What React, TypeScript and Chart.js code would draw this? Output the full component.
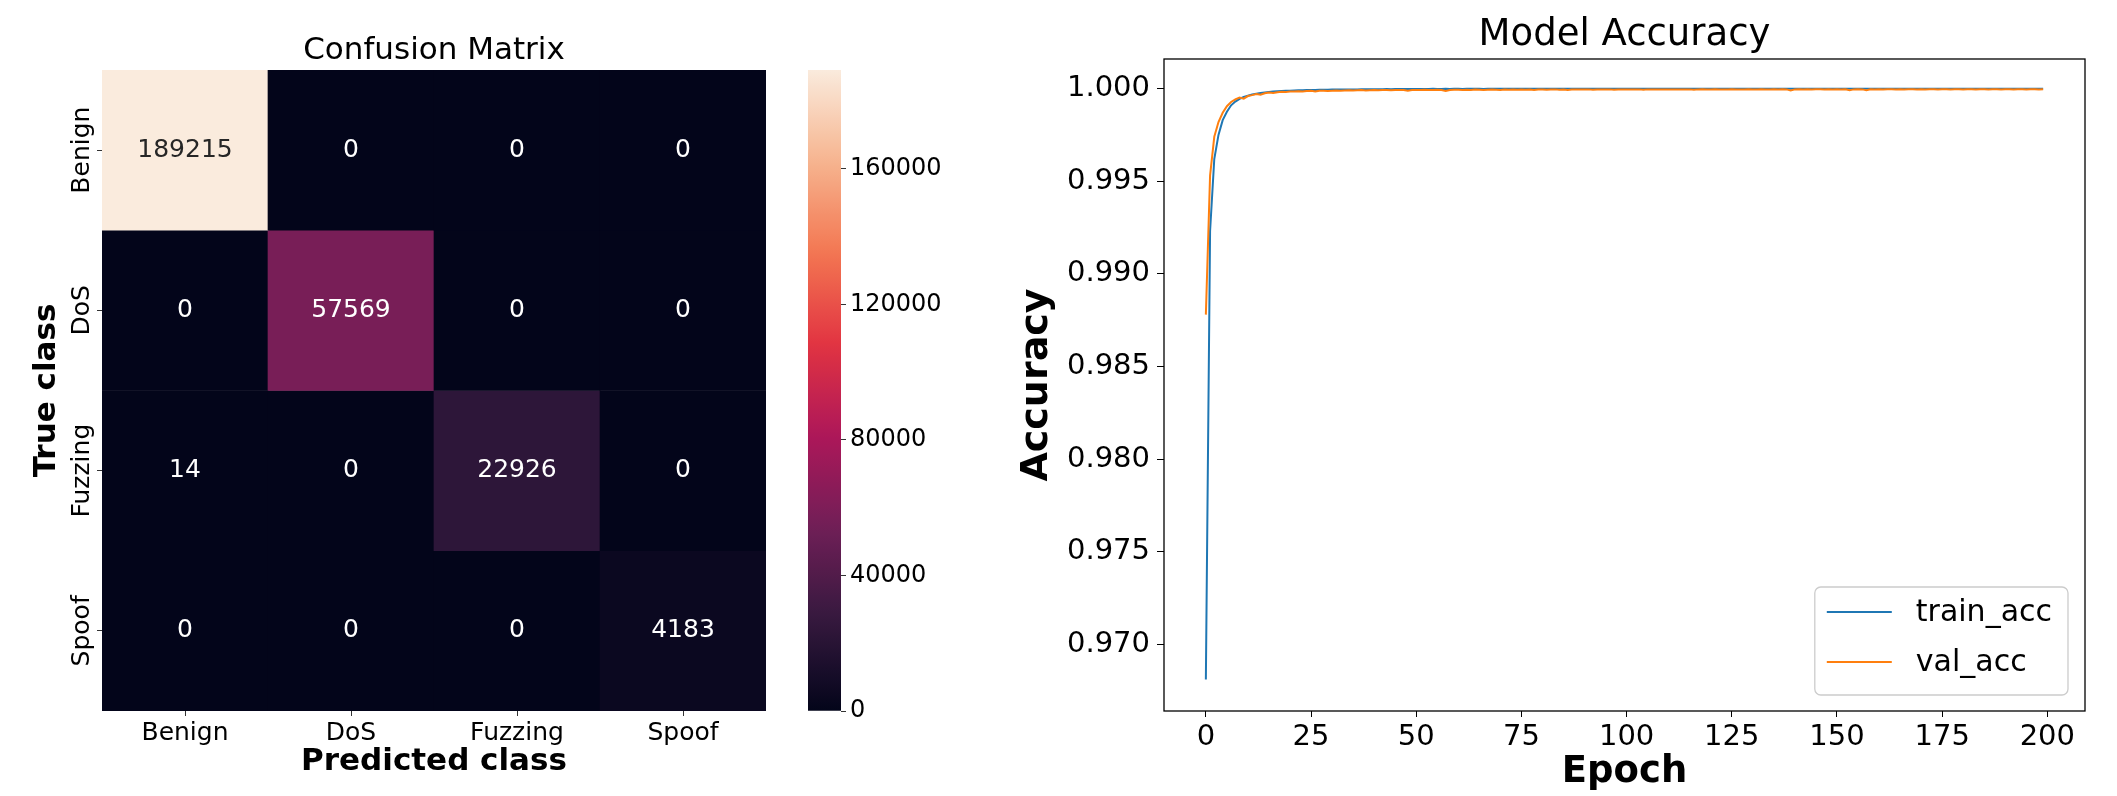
import React, { useEffect, useRef } from "react";
import { Chart, registerables } from "chart.js";
Chart.register(...registerables);

const FONT = "'DejaVu Sans', 'Noto Sans', sans-serif";

// ---------- Confusion matrix data ----------
const classes = ["Benign", "DoS", "Fuzzing", "Spoof"];
const rowBenign = [189215, 0, 0, 0];
const rowDoS = [0, 57569, 0, 0];
const rowFuzzing = [14, 0, 22926, 0];
const rowSpoof = [0, 0, 0, 4183];
const confusionRows = [rowBenign, rowDoS, rowFuzzing, rowSpoof];
const colorbarTicks = [0, 40000, 80000, 120000, 160000];
const colorbarMax = 189215;

// ---------- Accuracy data ----------
const epochTicks = [0, 25, 50, 75, 100, 125, 150, 175, 200];
const accTicks = [0.97, 0.975, 0.98, 0.985, 0.99, 0.995, 1.0];
const trainAcc = [
  0.96810, 0.99230, 0.99620, 0.99750, 0.99830, 0.99875, 0.99910, 0.99930, 0.99945, 0.99955,
  0.99962, 0.99968, 0.99972, 0.99976, 0.99979, 0.99982, 0.99984, 0.99986, 0.99987, 0.99988,
  0.99989, 0.99990, 0.99991, 0.99991, 0.99992, 0.99993, 0.99993, 0.99994, 0.99994, 0.99994,
  0.99995, 0.99995, 0.99995, 0.99996, 0.99996, 0.99996, 0.99996, 0.99997, 0.99997, 0.99997,
  0.99997, 0.99997, 0.99997, 0.99998, 0.99997, 0.99998, 0.99998, 0.99998, 0.99998, 0.99998,
  0.99998, 0.99998, 0.99998, 0.99998, 0.99999, 0.99998, 0.99998, 0.99999, 0.99998, 0.99999,
  0.99999, 0.99998, 0.99999, 0.99999, 0.99999, 0.99999, 0.99998, 0.99999, 0.99999, 0.99999,
  0.99999, 0.99999, 0.99999, 0.99999, 0.99999, 0.99999, 0.99999, 0.99999, 0.99999, 0.99999,
  0.99999, 0.99999, 0.99999, 1.00000, 0.99999, 0.99999, 0.99999, 0.99999, 0.99999, 1.00000,
  0.99999, 0.99999, 0.99999, 1.00000, 0.99999, 0.99999, 1.00000, 0.99999, 0.99999, 0.99999,
  1.00000, 0.99999, 0.99999, 1.00000, 0.99999, 1.00000, 0.99999, 0.99999, 1.00000, 0.99999,
  0.99999, 1.00000, 0.99999, 1.00000, 1.00000, 0.99999, 0.99999, 1.00000, 0.99999, 1.00000,
  1.00000, 0.99999, 1.00000, 0.99999, 1.00000, 1.00000, 0.99999, 1.00000, 1.00000, 0.99999,
  1.00000, 1.00000, 0.99999, 1.00000, 1.00000, 0.99999, 1.00000, 1.00000, 1.00000, 0.99999,
  1.00000, 1.00000, 1.00000, 0.99999, 1.00000, 1.00000, 1.00000, 0.99999, 1.00000, 1.00000,
  1.00000, 1.00000, 0.99999, 1.00000, 1.00000, 1.00000, 1.00000, 0.99999, 1.00000, 1.00000,
  1.00000, 1.00000, 1.00000, 1.00000, 0.99999, 1.00000, 1.00000, 1.00000, 1.00000, 1.00000,
  0.99999, 1.00000, 1.00000, 1.00000, 1.00000, 1.00000, 1.00000, 0.99999, 1.00000, 1.00000,
  1.00000, 1.00000, 1.00000, 1.00000, 1.00000, 0.99999, 1.00000, 1.00000, 1.00000, 1.00000,
  1.00000, 1.00000, 1.00000, 1.00000, 1.00000, 1.00000, 0.99999, 1.00000, 1.00000, 1.00000,
];
const valAcc = [
  0.98780, 0.99530, 0.99740, 0.99820, 0.99870, 0.99905, 0.99928, 0.99942, 0.99952, 0.99946,
  0.99960, 0.99965, 0.99971, 0.99967, 0.99975, 0.99979, 0.99976, 0.99981, 0.99983, 0.99982,
  0.99984, 0.99985, 0.99986, 0.99984, 0.99987, 0.99988, 0.99985, 0.99988, 0.99989, 0.99987,
  0.99989, 0.99990, 0.99988, 0.99990, 0.99991, 0.99990, 0.99991, 0.99992, 0.99990, 0.99991,
  0.99992, 0.99991, 0.99992, 0.99993, 0.99991, 0.99992, 0.99993, 0.99992, 0.99989, 0.99993,
  0.99993, 0.99992, 0.99994, 0.99993, 0.99992, 0.99994, 0.99993, 0.99988, 0.99993, 0.99994,
  0.99994, 0.99993, 0.99994, 0.99993, 0.99995, 0.99994, 0.99993, 0.99994, 0.99995, 0.99994,
  0.99993, 0.99995, 0.99994, 0.99995, 0.99994, 0.99995, 0.99994, 0.99995, 0.99993, 0.99995,
  0.99995, 0.99994, 0.99995, 0.99996, 0.99994, 0.99995, 0.99993, 0.99995, 0.99996, 0.99995,
  0.99995, 0.99996, 0.99994, 0.99995, 0.99996, 0.99995, 0.99996, 0.99994, 0.99995, 0.99996,
  0.99995, 0.99996, 0.99995, 0.99996, 0.99994, 0.99996, 0.99995, 0.99996, 0.99996, 0.99995,
  0.99996, 0.99995, 0.99996, 0.99996, 0.99995, 0.99996, 0.99994, 0.99996, 0.99997, 0.99995,
  0.99996, 0.99997, 0.99995, 0.99996, 0.99996, 0.99997, 0.99996, 0.99995, 0.99996, 0.99997,
  0.99996, 0.99996, 0.99997, 0.99995, 0.99996, 0.99997, 0.99996, 0.99997, 0.99996, 0.99990,
  0.99996, 0.99997, 0.99996, 0.99997, 0.99996, 0.99997, 0.99997, 0.99996, 0.99997, 0.99996,
  0.99997, 0.99996, 0.99997, 0.99991, 0.99996, 0.99997, 0.99996, 0.99992, 0.99997, 0.99996,
  0.99997, 0.99996, 0.99997, 0.99997, 0.99996, 0.99997, 0.99996, 0.99997, 0.99997, 0.99996,
  0.99997, 0.99996, 0.99997, 0.99997, 0.99996, 0.99997, 0.99997, 0.99996, 0.99997, 0.99997,
  0.99996, 0.99997, 0.99997, 0.99996, 0.99997, 0.99997, 0.99996, 0.99997, 0.99997, 0.99996,
  0.99997, 0.99997, 0.99996, 0.99997, 0.99997, 0.99996, 0.99997, 0.99997, 0.99996, 0.99997,
];

// ---------- colormap (seaborn "rocket") ----------
const ROCKET: [number, number, number, number][] = [
  [0.0, 3, 5, 26],
  [0.143, 53, 25, 62],
  [0.286, 112, 31, 87],
  [0.429, 173, 23, 89],
  [0.571, 225, 51, 66],
  [0.714, 243, 118, 81],
  [0.857, 246, 180, 143],
  [1.0, 250, 235, 221],
];
function rocket(t: number): string {
  const v = Math.max(0, Math.min(1, t));
  for (let i = 1; i < ROCKET.length; i++) {
    const a = ROCKET[i - 1];
    const b = ROCKET[i];
    if (v <= b[0]) {
      const f = (v - a[0]) / (b[0] - a[0]);
      const r = Math.round(a[1] + (b[1] - a[1]) * f);
      const g = Math.round(a[2] + (b[2] - a[2]) * f);
      const bl = Math.round(a[3] + (b[3] - a[3]) * f);
      return `rgb(${r},${g},${bl})`;
    }
  }
  return "rgb(250,235,221)";
}

function useChart(ref: React.RefObject<HTMLCanvasElement>, make: (c: HTMLCanvasElement) => Chart) {
  useEffect(() => {
    if (!ref.current) return;
    const chart = make(ref.current);
    return () => chart.destroy();
  }, []);
}

const heatmapLabelsPlugin = {
  id: "heatmapLabels",
  afterDatasetsDraw(chart: any) {
    const { ctx, scales } = chart;
    const xs = scales.x;
    const ys = scales.y;
    ctx.save();
    ctx.font = `25px ${FONT}`;
    ctx.textAlign = "center";
    ctx.textBaseline = "middle";
    confusionRows.forEach((row, r) => {
      row.forEach((v, c) => {
        const x = xs.getPixelForValue(c);
        const y = ys.getPixelForValue(r + 0.5);
        ctx.fillStyle = v / colorbarMax > 0.6 ? "#262626" : "#ffffff";
        ctx.fillText(String(v), x, y);
      });
    });
    // y tick labels, rotated
    ctx.fillStyle = "#000";
    ctx.textBaseline = "alphabetic";
    classes.forEach((name, r) => {
      const y = ys.getPixelForValue(r + 0.5);
      ctx.save();
      ctx.translate(ys.right - 13, y);
      ctx.rotate(-Math.PI / 2);
      ctx.fillText(name, 0, 0);
      ctx.restore();
    });
    ctx.restore();
  },
};

const framePlugin = {
  id: "frame",
  afterDraw(chart: any) {
    const { ctx, chartArea } = chart;
    ctx.save();
    ctx.strokeStyle = "#000";
    ctx.lineWidth = 1.3;
    ctx.strokeRect(chartArea.left, chartArea.top, chartArea.right - chartArea.left, chartArea.bottom - chartArea.top);
    ctx.restore();
  },
};

const legendPlugin = {
  id: "mplLegend",
  afterDraw(chart: any) {
    const { ctx, chartArea } = chart;
    const sets = [chart.data.datasets[1], chart.data.datasets[0]]; // train, val
    ctx.save();
    ctx.font = `30px ${FONT}`;
    const textW = Math.max(...sets.map((d: any) => ctx.measureText(d.label).width));
    const boxW = 103 + textW + 14;
    const boxH = 108;
    const right = chartArea.right - 17;
    const bottom = chartArea.bottom - 16;
    const left = right - boxW;
    const top = bottom - boxH;
    ctx.beginPath();
    (ctx as any).roundRect(left, top, boxW, boxH, 6);
    ctx.fillStyle = "rgba(255,255,255,0.85)";
    ctx.fill();
    ctx.strokeStyle = "#cccccc";
    ctx.lineWidth = 1.3;
    ctx.stroke();
    sets.forEach((d: any, i: number) => {
      const y = top + 25 + i * 50;
      ctx.beginPath();
      ctx.moveTo(left + 12, y);
      ctx.lineTo(left + 77, y);
      ctx.strokeStyle = d.borderColor;
      ctx.lineWidth = 2;
      ctx.stroke();
      ctx.fillStyle = "#000";
      ctx.textAlign = "left";
      ctx.textBaseline = "middle";
      ctx.fillText(d.label, left + 101, y + 1);
    });
    ctx.restore();
  },
};

export default function App() {
  const heatRef = useRef<HTMLCanvasElement>(null);
  const cbRef = useRef<HTMLCanvasElement>(null);
  const accRef = useRef<HTMLCanvasElement>(null);

  useChart(heatRef, (canvas) =>
    new Chart(canvas, {
      type: "bar",
      data: {
        labels: classes,
        datasets: confusionRows.map((row, r) => ({
          label: classes[r],
          data: row.map(() => [r, r + 1]),
          backgroundColor: row.map((v) => rocket(v / colorbarMax)),
          borderWidth: 0,
          barPercentage: 1,
          categoryPercentage: 1,
          grouped: false,
        })) as any,
      },
      options: {
        responsive: false,
        animation: false,
        events: [],
        layout: { padding: { left: 0, right: 34, top: 32, bottom: 0 } },
        plugins: {
          legend: { display: false },
          tooltip: { enabled: false },
          title: {
            display: true,
            text: "Confusion Matrix",
            fullSize: false,
            color: "#000",
            font: { family: FONT, size: 31, weight: "normal" },
            padding: { top: 0, bottom: 0.8 },
          },
        },
        scales: {
          x: {
            type: "category",
            offset: true,
            grid: { offset: false, drawOnChartArea: false, tickLength: 5, color: "#333" },
            border: { display: false },
            ticks: { color: "#000", font: { family: FONT, size: 25 }, padding: 2, maxRotation: 0 },
            title: {
              display: true,
              text: "Predicted class",
              color: "#000",
              font: { family: FONT, size: 31, weight: "bold" },
              padding: { top: 0, bottom: 15 },
            },
            afterFit: (s: any) => {
              s.height = 85;
            },
          } as any,
          y: {
            type: "linear",
            min: 0,
            max: 4,
            reverse: true,
            afterBuildTicks: (s: any) => {
              s.ticks = classes.map((_, i) => ({ value: i + 0.5 }));
            },
            grid: { drawOnChartArea: false, tickLength: 5, color: "#333" },
            border: { display: false },
            ticks: { display: false },
            title: {
              display: true,
              text: "True class",
              color: "#000",
              font: { family: FONT, size: 31, weight: "bold" },
              padding: { top: 28, bottom: 0 },
            },
            afterFit: (s: any) => {
              s.width = 102;
            },
          } as any,
        },
      },
      plugins: [heatmapLabelsPlugin],
    })
  );

  useChart(cbRef, (canvas) =>
    new Chart(canvas, {
      type: "bar",
      data: {
        labels: ["colorbar"],
        datasets: [
          {
            data: [[0, colorbarMax]] as any,
            backgroundColor: (c: any) => {
              const area = c.chart.chartArea;
              if (!area) return rocket(0.5);
              const g = c.chart.ctx.createLinearGradient(0, area.bottom, 0, area.top);
              for (let i = 0; i <= 40; i++) g.addColorStop(i / 40, rocket(i / 40));
              return g;
            },
            borderWidth: 0,
            barPercentage: 1,
            categoryPercentage: 1,
          },
        ],
      },
      options: {
        responsive: false,
        animation: false,
        events: [],
        layout: { padding: { left: 18, right: 0, top: 70, bottom: 85 } },
        plugins: { legend: { display: false }, tooltip: { enabled: false } },
        scales: {
          x: { display: false },
          y: {
            type: "linear",
            position: "right",
            min: 0,
            max: colorbarMax,
            afterBuildTicks: (s: any) => {
              s.ticks = colorbarTicks.map((v) => ({ value: v }));
            },
            grid: { drawOnChartArea: false, tickLength: 5, color: "#333" },
            border: { display: false },
            ticks: {
              color: "#000",
              font: { family: FONT, size: 24 },
              padding: 4,
              callback: (v: any) => String(v),
            },
            afterFit: (s: any) => {
              s.width = 100;
            },
          } as any,
        },
      },
    })
  );

  useChart(accRef, (canvas) =>
    new Chart(canvas, {
      type: "line",
      data: {
        datasets: [
          {
            label: "val_acc",
            data: valAcc.map((v, i) => ({ x: i, y: v })),
            borderColor: "#ff7f0e",
            borderWidth: 2,
            pointRadius: 0,
            tension: 0,
            order: 0,
          },
          {
            label: "train_acc",
            data: trainAcc.map((v, i) => ({ x: i, y: v })),
            borderColor: "#1f77b4",
            borderWidth: 2,
            pointRadius: 0,
            tension: 0,
            order: 1,
          },
        ],
      },
      options: {
        responsive: false,
        animation: false,
        events: [],
        layout: { padding: { left: 0, right: 32, top: 13, bottom: 0 } },
        plugins: {
          legend: { display: false },
          tooltip: { enabled: false },
          title: {
            display: true,
            text: "Model Accuracy",
            fullSize: false,
            color: "#000",
            font: { family: FONT, size: 37, weight: "normal" },
            padding: { top: 0, bottom: 1.6 },
          },
        },
        scales: {
          x: {
            type: "linear",
            min: -9.95,
            max: 208.95,
            afterBuildTicks: (s: any) => {
              s.ticks = epochTicks.map((v) => ({ value: v }));
            },
            grid: { drawOnChartArea: false, tickLength: 6, color: "#000" },
            border: { display: false },
            ticks: { color: "#000", font: { family: FONT, size: 29 }, padding: 3, maxRotation: 0 },
            title: {
              display: true,
              text: "Epoch",
              color: "#000",
              font: { family: FONT, size: 37, weight: "bold" },
              padding: { top: 0, bottom: 1 },
            },
            afterFit: (s: any) => {
              s.height = 85;
            },
          } as any,
          y: {
            type: "linear",
            min: 0.9664,
            max: 1.0016,
            afterBuildTicks: (s: any) => {
              s.ticks = accTicks.map((v) => ({ value: v }));
            },
            grid: { drawOnChartArea: false, tickLength: 7, color: "#000" },
            border: { display: false },
            ticks: {
              color: "#000",
              font: { family: FONT, size: 29 },
              padding: 7,
              callback: (v: any) => Number(v).toFixed(3),
            },
            title: {
              display: true,
              text: "Accuracy",
              color: "#000",
              font: { family: FONT, size: 38, weight: "bold" },
              padding: { top: 14, bottom: 0 },
            },
            afterFit: (s: any) => {
              s.width = 164;
            },
          } as any,
        },
      },
      plugins: [framePlugin, legendPlugin],
    })
  );

  return (
    <div style={{ position: "fixed", left: 0, top: 0, width: 2117, height: 796, background: "#fff", overflow: "hidden" }}>
      <canvas ref={heatRef} width={800} height={796} style={{ position: "absolute", left: 0, top: 0, width: 800, height: 796 }} />
      <canvas ref={cbRef} width={151} height={796} style={{ position: "absolute", left: 790, top: 0, width: 151, height: 796 }} />
      <canvas ref={accRef} width={1117} height={796} style={{ position: "absolute", left: 1000, top: 0, width: 1117, height: 796 }} />
    </div>
  );
}
